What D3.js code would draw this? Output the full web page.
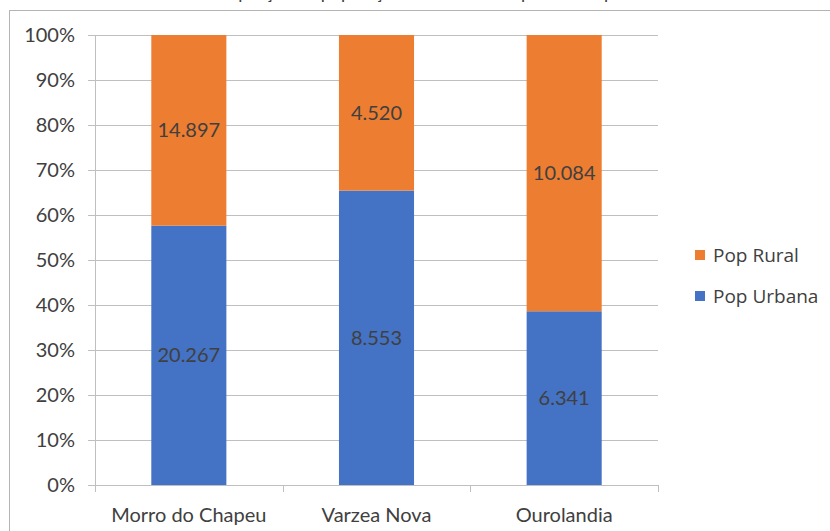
<!DOCTYPE html>
<html>
<head>
<meta charset="utf-8">
<script src="https://cdn.jsdelivr.net/npm/d3@7"></script>
<style>
  body { margin: 0; background: #fff; }
  text { font-family: Lato, "Open Sans", sans-serif; fill: #404040; }
</style>
</head>
<body>
<div class="chart"></div>
<script>
var width = 830;
var height = 531;

// data
var cities = ["Morro do Chapeu", "Varzea Nova", "Ourolandia"];
var popUrbana = [20267, 8553, 6341];
var popRural = [14897, 4520, 10084];
var seriesNames = ["Pop Urbana", "Pop Rural"];
var seriesColors = ["#4472C4", "#ED7D31"];
var yTicks = [0, 0.1, 0.2, 0.3, 0.4, 0.5, 0.6, 0.7, 0.8, 0.9, 1];

var margin = {top: 35, left: 95, right: 172, bottom: 46};
var fontSize = "20px";

var svg = d3.select(".chart").append("svg")
    .attr("width", width)
    .attr("height", height);

// chart frame (runs off the page at right and bottom)
svg.append("rect")
    .attr("x", 9.5).attr("y", 10.5)
    .attr("width", width).attr("height", height)
    .attr("fill", "none")
    .attr("stroke", "#b4b4b4");

// title, cut off above the page - only descenders show
svg.append("text")
    .attr("x", 420).attr("y", -1)
    .attr("text-anchor", "middle")
    .style("font-size", "18px")
    .text("Proporção da população urbana e rural por município");

var x = d3.scaleBand()
    .domain(cities)
    .range([margin.left, width - margin.right]);

var y = d3.scaleLinear()
    .domain([0, 1])
    .range([height - margin.bottom, margin.top]);

var barW = x.bandwidth() * 0.4;

// gridlines + y labels
var yAxis = svg.append("g")
    .attr("transform", "translate(" + margin.left + ",0)")
    .call(d3.axisLeft(y)
      .tickValues(yTicks)
      .tickFormat(d3.format(".0%"))
      .tickSize(-(width - margin.left - margin.right))
      .tickPadding(20));
yAxis.select(".domain").remove();
yAxis.selectAll(".tick line")
    .attr("x1", -7)
    .attr("stroke", "#bfbfbf");
yAxis.selectAll(".tick text")
    .style("font-size", fontSize)
    .attr("fill", "#404040");

// y axis line
svg.append("line")
    .attr("x1", margin.left + 0.5).attr("x2", margin.left + 0.5)
    .attr("y1", y(1)).attr("y2", y(0))
    .attr("stroke", "#bfbfbf");

// stack the data
var rows = cities.map(function(c, i) {
  var total = popUrbana[i] + popRural[i];
  return {city: c, vals: [popUrbana[i], popRural[i]], total: total};
});

var fmt = function(v) { return d3.format(",")(v).replace(/,/g, "."); };

rows.forEach(function(r) {
  var acc = 0;
  r.vals.forEach(function(v, k) {
    var y0 = acc / r.total;
    var y1 = (acc + v) / r.total;
    acc += v;
    var cx = x(r.city) + x.bandwidth() / 2;
    svg.append("rect")
        .attr("x", cx - barW / 2)
        .attr("y", y(y1))
        .attr("width", barW)
        .attr("height", y(y0) - y(y1))
        .attr("fill", seriesColors[k]);
    svg.append("text")
        .attr("x", cx)
        .attr("y", (y(y0) + y(y1)) / 2)
        .attr("dy", "0.35em")
        .attr("text-anchor", "middle")
        .style("font-size", fontSize)
        .text(fmt(v));
  });
});

// x axis line with ticks at category boundaries
var xAxisG = svg.append("g");
xAxisG.append("line")
    .attr("x1", margin.left).attr("x2", width - margin.right)
    .attr("y1", y(0) + 0.5).attr("y2", y(0) + 0.5)
    .attr("stroke", "#bfbfbf");
var bounds = cities.map(function(c) { return x(c); }).concat([width - margin.right]);
xAxisG.selectAll(".xt")
    .data(bounds)
    .enter().append("line")
    .attr("x1", function(d) { return Math.round(d) + 0.5; })
    .attr("x2", function(d) { return Math.round(d) + 0.5; })
    .attr("y1", y(0)).attr("y2", y(0) + 7)
    .attr("stroke", "#bfbfbf");
xAxisG.selectAll(".xl")
    .data(cities)
    .enter().append("text")
    .attr("x", function(d) { return x(d) + x.bandwidth() / 2; })
    .attr("y", y(0) + 37)
    .attr("text-anchor", "middle")
    .style("font-size", fontSize)
    .text(function(d) { return d; });

// legend (rural on top)
var legendItems = [1, 0];
var legend = svg.append("g")
    .attr("transform", "translate(695,250)");
legendItems.forEach(function(k, i) {
  legend.append("rect")
      .attr("x", 0).attr("y", i * 41)
      .attr("width", 10).attr("height", 10)
      .attr("fill", seriesColors[k]);
  legend.append("text")
      .attr("x", 18).attr("y", i * 41 + 5)
      .attr("dy", "0.35em")
      .style("font-family", "'Open Sans', sans-serif")
      .style("font-size", "19px")
      .text(seriesNames[k]);
});
</script>
</body>
</html>
